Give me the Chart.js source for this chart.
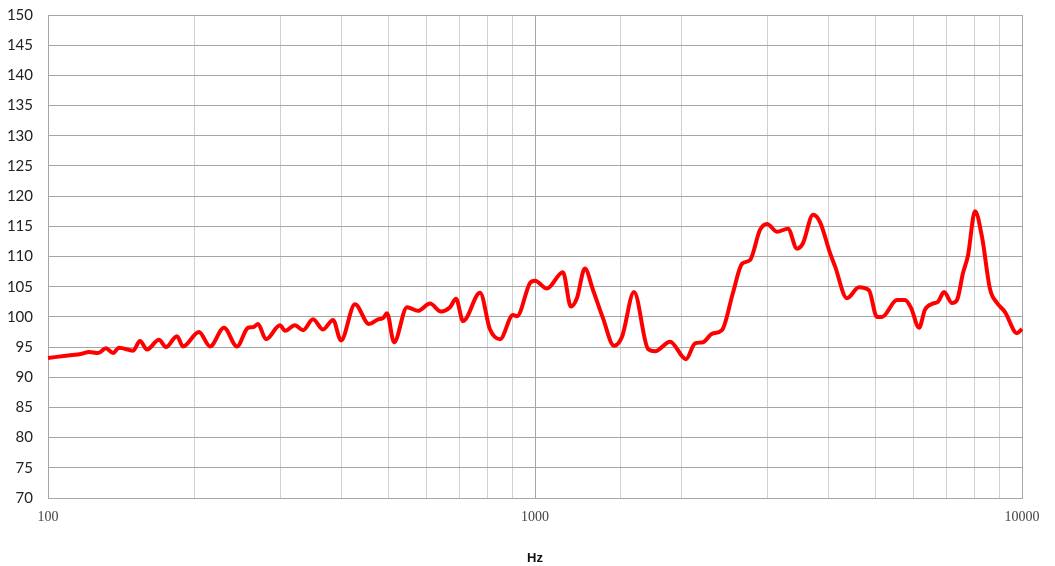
<!DOCTYPE html>
<html><head><meta charset="utf-8">
<script src="https://cdn.jsdelivr.net/npm/chart.js@4/dist/chart.umd.min.js"></script>
<style>html,body{margin:0;padding:0;background:#fff}#wrap{width:1055px;height:566px;position:relative}</style>
</head><body><div id="wrap"><canvas id="c"></canvas></div>
<script>
const freqs = [100,110,117.4,121.4,126.7,131.5,136,139.9,149.5,154.5,159.7,169,174.7,184,189.3,204.2,215.1,229.8,244.4,257.5,263.6,269.9,280.3,299.5,306.7,321.5,334,350.1,367,384.8,399.6,426.9,456.2,476.1,487.5,496.8,513.5,546.1,575.2,608.7,641.2,669.1,688.4,711.6,771.3,808.5,847.6,901.1,918.3,976.5,1000,1058,1141,1185,1219,1266,1315,1379,1453,1509,1597,1706,1764,1894,2042,2131,2213,2309,2421,2550,2661,2764,2897,2995,3140,3307,3451,3550,3723,3848,4034,4130,4372,4627,4850,5037,5157,5538,5752,5917,6145,6322,6566,6723,6917,7184,7355,7567,7747,8008,8278,8597,8888,9228,9764,10000];
const spl = [93.2,93.6,93.9,94.2,94.0,94.8,94.0,94.9,94.4,96.0,94.6,96.2,95.0,96.8,95.1,97.5,95.1,98.2,95.1,98.2,98.3,98.8,96.3,98.6,97.7,98.6,97.8,99.6,97.9,99.5,96.1,102.1,98.8,99.6,99.8,100.6,95.8,101.6,101.0,102.2,100.9,101.6,103.0,99.3,104.0,97.9,96.3,100.3,100.1,105.6,106.0,104.7,107.4,101.7,103.1,108.0,104.5,99.8,95.2,96.7,104.1,94.7,94.3,95.9,93.0,95.6,95.8,97.2,97.8,104.0,108.8,109.4,114.4,115.4,114.1,114.6,111.3,112.2,116.9,115.7,110.6,108.4,103.1,104.9,104.4,100.0,100.0,102.8,102.8,101.5,98.2,101.2,102.2,102.5,104.1,102.3,102.8,107.3,110.2,117.5,113.2,104.6,102.3,100.8,97.3,98.0];
const xLabels = [100, 1000, 10000];
const yMin = 70, yMax = 150, yStep = 5;
const xTitle = 'Hz';

const pts = freqs.map((f, i) => ({x: f, y: spl[i]}));
new Chart(document.getElementById('c'), {
  type: 'line',
  data: { datasets: [{ data: pts, borderColor: '#ff0000', borderWidth: 4, pointRadius: 0, cubicInterpolationMode: 'monotone', fill: false, clip: 4 }] },
  options: {
    responsive: true, maintainAspectRatio: false, animation: false,
    layout: { padding: { top: 15, right: 33, bottom: 0, left: 0 } },
    plugins: { legend: { display: false }, tooltip: { enabled: false } },
    scales: {
      x: {
        type: 'logarithmic', min: 100, max: 10000,
        grid: { drawTicks: false, color: (ctx) => (ctx.tick && xLabels.includes(ctx.tick.value)) ? '#a6a6a6' : '#d0d0d0', lineWidth: 1 },
        border: { color: '#a6a6a6' },
        ticks: { autoSkip: false, maxRotation: 0, padding: 11, color: '#444', font: { family: 'Liberation Serif', size: 14 },
          callback: (v) => xLabels.includes(v) ? String(v) : '' },
        title: { display: true, text: xTitle, color: '#111', font: { family: 'Liberation Sans', size: 13, weight: 'bold' }, padding: { top: 0, bottom: 0 } },
        afterFit: (s) => { s.height = 68; s.paddingLeft = 0; s.paddingRight = 0; }
      },
      y: {
        min: yMin, max: yMax,
        grid: { drawTicks: false, color: '#a6a6a6' },
        border: { color: '#a6a6a6' },
        ticks: { stepSize: yStep, padding: 15, color: '#222', font: { family: 'Lato', size: 15 } },
        afterFit: (s) => { s.width = 48; s.paddingTop = 0; s.paddingBottom = 0; }
      }
    }
  }
});
</script></body></html>
